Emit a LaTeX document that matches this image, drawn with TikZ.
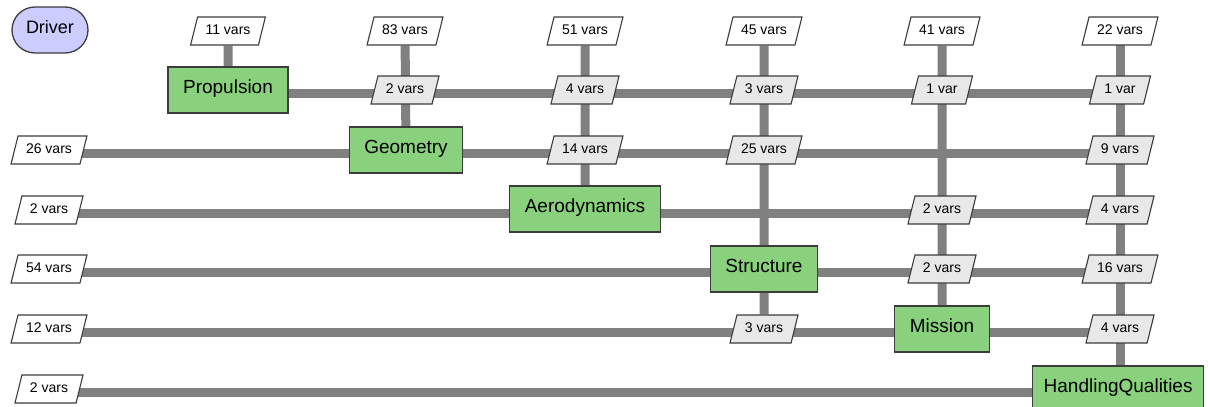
\documentclass[tikz,border=0pt]{standalone}
\usepackage{fontspec}
\setmainfont{Liberation Sans}
\usetikzlibrary{shapes.geometric,backgrounds}
\definecolor{boxgreen}{RGB}{137,209,124}
\definecolor{drvblue}{RGB}{204,204,255}
\definecolor{linegray}{RGB}{128,128,128}
\definecolor{pgray}{RGB}{232,232,232}
\definecolor{edgec}{RGB}{60,60,60}
\tikzset{
 comp/.style={draw=edgec, line width=1.3pt, fill=boxgreen, minimum height=46pt, inner xsep=15pt, text height=13pt, text depth=7pt, font=\fontsize{19}{22}\selectfont},
 varbox/.style={trapezium, trapezium left angle=76, trapezium right angle=104, draw=edgec, line width=1.1pt, inner xsep=8pt, inner ysep=7.5pt, text height=10pt, text depth=3pt, font=\fontsize{14}{16}\selectfont},
 inbox/.style={varbox, fill=white},
 midbox/.style={varbox, fill=pgray},
 conn/.style={draw=linegray, line width=9pt},
 drv/.style={draw=edgec, line width=1.3pt, fill=drvblue, rounded corners=23pt, minimum width=76pt, minimum height=46pt, text height=13pt, text depth=6pt, font=\fontsize{18}{22}\selectfont}
}
\begin{document}
\begin{tikzpicture}[x=1pt,y=-1pt]
\useasboundingbox (0,0) rectangle (1208,407);
% driver
\node[drv] (drv) at (50,30) {Driver};
% components
\node[comp] (P) at (228,90) {Propulsion};
\node[comp] (G) at (406,150) {Geometry};
\node[comp] (A) at (585,209) {Aerodynamics};
\node[comp] (S) at (764,269) {Structure};
\node[comp] (M) at (942,329) {Mission};
\node[comp, anchor=west, inner xsep=11pt] (HQ) at (1032,389) {HandlingQualities};
% top inputs
\node[inbox] (t1) at (228,31) {11 vars};
\node[inbox] (t2) at (405,31) {83 vars};
\node[inbox] (t3) at (585,31) {51 vars};
\node[inbox] (t4) at (764,31) {45 vars};
\node[inbox] (t5) at (942,31) {41 vars};
\node[inbox] (t6) at (1120,31) {22 vars};
% left inputs
\node[inbox] (in2) at (49,150) {26 vars};
\node[inbox] (in3) at (49,210) {2 vars};
\node[inbox] (in4) at (49,269) {54 vars};
\node[inbox] (in5) at (49,329) {12 vars};
\node[inbox] (in6) at (49,389) {2 vars};
% couplings
\node[midbox] (g1) at (405,90) {2 vars};
\node[midbox] (a1) at (585,90) {4 vars};
\node[midbox] (s1) at (764,90) {3 vars};
\node[midbox] (m1) at (942,90) {1 var};
\node[midbox] (h1) at (1120,90) {1 var};
\node[midbox] (a2) at (585,150) {14 vars};
\node[midbox] (s2) at (764,150) {25 vars};
\node[midbox] (h2) at (1120,150) {9 vars};
\node[midbox] (m3) at (942,210) {2 vars};
\node[midbox] (h3) at (1120,210) {4 vars};
\node[midbox] (m4) at (942,269) {2 vars};
\node[midbox] (h4) at (1120,269) {16 vars};
\node[midbox] (s5) at (764,329) {3 vars};
\node[midbox] (h5) at (1120,329) {4 vars};
\begin{pgfonlayer}{background}
% horizontal
\draw[conn] ([yshift=-3pt]P.center) -- ([yshift=-3pt]h1.center);
\draw[conn] ([yshift=-3pt]in2.center) -- ([yshift=-3pt]h2.center);
\draw[conn] ([yshift=-3pt]in3.center) -- ([yshift=-3pt]h3.center);
\draw[conn] ([yshift=-3pt]in4.center) -- ([yshift=-3pt]h4.center);
\draw[conn] ([yshift=-3pt]in5.center) -- ([yshift=-3pt]h5.center);
\draw[conn] ([yshift=-3pt]in6.center) -- ([yshift=-3pt]HQ.center);
% vertical
\draw[conn] (t1) -- (P);
\draw[conn] (t2) -- (G);
\draw[conn] (t3) -- (A);
\draw[conn] (t4) -- (s5);
\draw[conn] (t5) -- (M);
\draw[conn] (t6.center) -- (t6 |- HQ.center);
\end{pgfonlayer}
\end{tikzpicture}
\end{document}
